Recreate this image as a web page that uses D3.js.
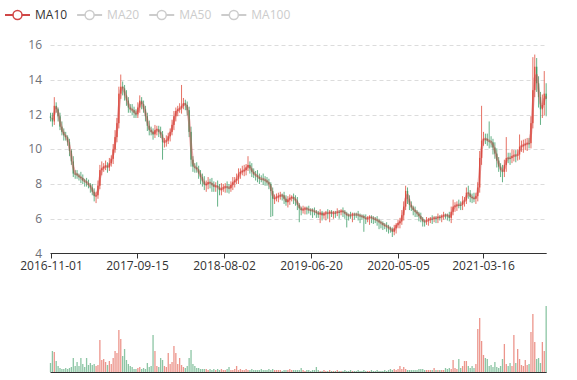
<!DOCTYPE html>
<html lang="en">
<head>
<meta charset="UTF-8">
<title>Candlestick with MA10</title>
<script src="https://d3js.org/d3.v7.min.js"></script>
<style>
  body { margin: 0; background: #fff; }
  svg text { font-family: "Open Sans", "Noto Sans", sans-serif; font-size: 12px; }
</style>
</head>
<body>
<svg id="chart" width="577" height="380"></svg>
<script>
// axis range and labels
const firstDay = "2016-11-01";
const lastDay = "2021-11-04";
const tickLabels = ["2016-11-01", "2017-09-15", "2018-08-02", "2019-06-20", "2020-05-05", "2021-03-16"];
const priceTicks = [4, 6, 8, 10, 12, 14, 16];
const legendNames = ["MA10", "MA20", "MA50", "MA100"];
const activeSeries = ["MA10"];

// weekly candles (open = previous close)
const firstOpen = 11.9;
const closes = [
  11.8,11.6,12.5,12.3,11.9,11.3,11.0,10.8,10.7,10.4,
  9.9,9.3,8.6,8.6,8.5,8.4,8.35,8.2,8.15,8.05,
  7.95,7.8,7.55,7.3,7.35,7.9,8.8,8.9,9.0,9.05,
  8.95,9.2,9.45,10.0,10.7,11.5,13.2,13.6,13.5,13.1,
  12.8,12.4,12.3,12.25,12.1,12.0,12.4,12.8,12.6,12.3,
  11.9,11.35,11.1,11.0,10.85,11.1,11.15,11.0,10.85,10.4,
  10.45,10.5,10.75,11.0,11.4,11.9,12.2,12.3,12.35,12.5,
  12.65,12.55,12.25,11.0,9.4,9.0,8.95,8.85,8.6,8.4,
  8.15,7.95,8.0,8.1,8.05,7.95,7.85,7.9,7.8,7.65,
  7.75,7.8,7.85,7.8,7.75,7.95,8.1,8.2,8.3,8.6,
  8.7,8.75,8.8,8.95,9.1,8.9,8.7,8.55,8.5,8.4,
  8.3,8.3,8.25,8.2,8.1,8.0,7.6,7.15,7.2,7.25,
  7.3,7.35,7.35,7.15,6.95,7.1,7.2,7.25,7.15,7.05,
  6.8,6.6,6.5,6.55,6.6,6.55,6.5,6.5,6.45,6.4,
  6.35,6.25,6.35,6.2,6.3,6.35,6.3,6.4,6.3,6.35,
  6.35,6.4,6.4,6.45,6.4,6.3,6.2,6.2,6.2,6.25,
  6.25,6.25,6.2,6.15,6.15,6.05,6.0,6.05,6.1,6.05,
  6.0,5.95,5.9,5.8,5.75,5.65,5.6,5.55,5.45,5.4,
  5.25,5.45,5.65,5.75,5.85,6.2,6.7,7.6,7.15,6.8,
  6.65,6.5,6.4,6.3,6.15,6.0,5.85,5.85,5.9,5.95,
  6.0,6.0,6.05,6.05,6.1,6.1,6.15,6.2,6.2,6.2,
  6.05,6.4,6.7,6.75,6.8,6.8,6.8,7.0,7.05,7.5,
  7.45,7.25,7.2,7.15,7.3,7.8,9.5,10.5,10.6,10.6,
  10.5,10.45,10.4,10.1,9.75,9.35,9.0,8.8,8.7,9.1,
  9.5,9.5,9.5,9.6,9.65,9.65,9.7,10.15,10.2,10.25,
  10.3,10.35,10.35,11.5,13.4,14.75,13.8,13.0,12.3,12.55,
  13.2,12.9
];
// shadow lengths above / below the body, in tenths
const upWick = [
  2,3,5,2,1,2,3,2,2,1, 2,1,3,2,2,1,3,2,1,2, 2,1,2,2,2,3,3,4,2,3,
  2,3,2,3,4,3,4,7,3,2, 3,2,2,3,2,2,3,3,2,2, 2,2,3,2,2,3,2,2,3,2,
  2,3,2,2,3,3,2,2,3,12, 3,2,2,2,3,2,2,3,2,2, 2,3,2,3,2,3,2,2,3,2,
  3,2,2,3,2,2,3,2,3,3, 2,3,3,2,5,2,3,2,2,3, 2,2,3,2,2,2,1,2,2,2,
  2,2,1,2,2,2,2,1,2,2, 2,1,1,2,1,1,2,1,1,2, 1,1,2,1,1,1,2,1,1,1,
  1,2,1,1,2,1,1,1,2,1, 1,1,2,1,1,1,2,1,1,1, 1,1,2,1,1,1,1,2,1,1,
  1,2,1,2,2,3,3,3,2,2, 2,1,2,1,1,2,1,1,2,1, 1,2,1,1,2,1,1,2,1,1,
  2,3,4,2,2,3,2,3,2,3, 4,2,2,3,2,3,4,20,4,3, 3,11,3,2,3,3,2,2,3,3,
  12,3,3,4,3,3,3,7,3,3, 3,3,3,4,19,7,5,4,3,6, 13,6
];
const downWick = [
  2,3,2,2,3,2,2,3,2,2, 3,2,2,3,2,2,3,2,3,2, 2,3,2,3,4,2,2,3,2,2,
  3,2,2,3,2,3,3,3,4,3, 3,3,2,3,3,2,2,3,3,2, 3,3,3,2,3,2,3,3,2,10,
  3,3,2,3,2,3,3,3,2,3, 2,3,3,3,4,3,3,2,3,4, 3,3,4,3,3,4,3,3,11,3,
  3,2,3,3,3,2,3,3,2,3, 3,2,3,3,2,3,3,2,3,3, 3,2,3,3,2,3,15,10,3,2,
  3,2,3,3,2,3,3,2,3,3, 3,8,3,2,3,3,2,3,4,2, 3,2,5,3,2,4,3,5,2,3,
  3,2,4,2,3,3,7,3,2,4, 3,2,3,4,2,8,3,2,4,3, 3,2,3,4,3,3,2,3,3,2,
  3,2,3,2,3,2,3,2,3,3, 2,3,3,2,3,2,3,3,2,3, 2,3,2,3,3,2,3,2,2,3,
  2,3,2,3,3,2,3,3,3,2, 3,3,3,2,3,3,3,4,3,3, 3,4,3,4,3,4,3,4,6,3,
  4,3,4,3,3,4,3,3,3,4, 3,4,3,3,3,4,5,6,9,5, 6,10
];
// weekly volume (millions)
const volumes = [
  0.9,2.1,2.0,1.1,0.6,0.4,0.3,0.3,0.4,0.3,
  0.4,0.5,1.4,0.6,1.0,0.6,1.4,0.8,0.5,1.4,
  0.7,0.9,0.7,0.8,0.6,0.7,3.2,1.2,1.3,1.0,
  0.7,1.1,0.8,1.4,2.1,1.9,4.2,3.3,1.6,2.3,
  1.2,0.8,0.6,0.5,0.3,0.3,0.4,0.5,0.3,0.4,
  0.3,0.9,0.5,0.6,3.7,2.1,0.6,0.5,1.4,1.2,
  0.6,0.5,1.9,0.8,1.0,2.6,1.9,0.8,1.4,0.7,
  0.5,0.4,0.6,1.4,2.2,0.8,0.6,0.4,0.4,0.3,
  0.3,0.3,0.3,0.2,0.3,0.2,0.3,0.2,0.3,0.2,
  0.3,0.2,0.2,0.3,0.5,0.2,0.2,0.3,0.6,0.2,
  0.3,0.2,0.2,0.3,0.2,0.2,0.3,0.2,0.2,0.2,
  0.2,0.3,0.2,0.2,0.2,0.3,0.2,0.3,0.2,0.2,
  0.2,0.2,0.1,0.2,0.2,0.2,0.3,0.2,0.2,0.2,
  0.2,0.2,0.4,0.2,0.1,0.2,0.2,0.1,0.2,0.2,
  0.5,0.2,0.1,0.1,0.2,0.1,0.1,0.2,0.1,0.1,
  0.1,0.2,0.1,0.1,0.1,0.2,0.1,0.1,0.2,0.1,
  0.1,0.1,0.2,0.1,0.1,0.2,0.1,0.1,0.1,0.2,
  0.1,0.1,0.2,0.1,0.1,0.1,0.2,0.1,0.2,0.3,
  0.2,0.3,0.2,0.3,0.6,0.3,0.5,0.3,0.2,0.2,
  0.2,0.2,0.2,0.2,0.3,0.3,0.3,0.2,0.2,0.2,
  0.2,0.2,0.4,0.2,0.2,0.2,0.2,0.2,0.4,0.3,
  0.4,0.3,1.2,0.4,0.3,1.3,0.4,0.6,1.1,1.1,
  0.6,0.4,0.6,0.4,0.8,4.3,5.4,3.1,1.7,1.4,
  1.3,0.6,0.7,0.5,1.0,0.5,0.4,0.6,1.3,2.8,
  0.8,0.6,0.9,0.6,3.7,0.9,2.3,1.3,0.7,0.6,
  1.2,0.7,0.8,4.0,5.8,3.0,1.3,1.4,0.9,3.0,
  2.1,6.6
];

const upColor = "#e04f3f", downColor = "#3f9e68", maColor = "#d04646";
const parse = d3.timeParse("%Y-%m-%d");
const start = parse(firstDay);

const candles = closes.map((c, i) => {
  const o = i === 0 ? firstOpen : closes[i - 1];
  return {
    date: d3.timeDay.offset(start, 7 * i),
    open: o, close: c,
    high: Math.max(o, c) + upWick[i] / 10,
    low: Math.min(o, c) - downWick[i] / 10,
    vol: volumes[i]
  };
});
const isUp = d => d.close > d.open;
// MA10 = ten trading days = two weekly closes
const ma10 = candles.slice(1).map((d, i) => ({ date: d.date, v: (closes[i] + closes[i + 1]) / 2 }));

const svg = d3.select("#chart");
const x = d3.scaleTime().domain([start, parse(lastDay)]).range([50.5, 546.7]);
const y = d3.scaleLinear().domain([4, 16]).range([253.5, 45]);
const yVol = d3.scaleLinear().domain([0, 7]).range([372, 302]);

// grid
svg.append("g").selectAll("line")
  .data(priceTicks.slice(1))
  .join("line")
  .attr("x1", x.range()[0]).attr("x2", x.range()[1])
  .attr("y1", d => Math.round(y(d)) + 0.5).attr("y2", d => Math.round(y(d)) + 0.5)
  .attr("stroke", "#dcdcdc").attr("stroke-dasharray", "4,3");

svg.append("g").selectAll("text")
  .data(priceTicks)
  .join("text")
  .attr("x", 42).attr("y", d => y(d)).attr("dy", "0.35em")
  .attr("text-anchor", "end").attr("fill", "#6e7079")
  .text(d => d);

// candles
const bw = 1.3;
const cg = svg.append("g");
cg.selectAll("line")
  .data(candles)
  .join("line")
  .attr("x1", d => x(d.date)).attr("x2", d => x(d.date))
  .attr("y1", d => y(d.high)).attr("y2", d => y(d.low))
  .attr("stroke", d => isUp(d) ? upColor : downColor)
  .attr("stroke-width", 1).attr("stroke-opacity", 0.8);
cg.selectAll("rect")
  .data(candles)
  .join("rect")
  .attr("x", d => x(d.date) - bw / 2)
  .attr("y", d => y(Math.max(d.open, d.close)))
  .attr("width", bw)
  .attr("height", d => Math.max(1, y(Math.min(d.open, d.close)) - y(Math.max(d.open, d.close))))
  .attr("fill", d => isUp(d) ? upColor : downColor);

// MA10 line
svg.append("path")
  .datum(ma10)
  .attr("fill", "none")
  .attr("stroke", maColor).attr("stroke-opacity", 0.45).attr("stroke-width", 2.5)
  .attr("stroke-linejoin", "round")
  .attr("d", d3.line().x(d => x(d.date)).y(d => y(d.v)));

// x axis
const xAxis = svg.append("g");
xAxis.append("line")
  .attr("x1", x.range()[0]).attr("x2", x.range()[1])
  .attr("y1", 253.5).attr("y2", 253.5).attr("stroke", "#333");
const tk = xAxis.selectAll("g.tick")
  .data(tickLabels)
  .join("g").attr("class", "tick")
  .attr("transform", d => `translate(${Math.round(x(parse(d))) + 0.5},0)`);
tk.append("line").attr("y1", 253.5).attr("y2", 258.5).attr("stroke", "#333");
tk.append("text").attr("y", 270).attr("text-anchor", "middle").attr("fill", "#333").text(d => d);

// volume
svg.append("g").selectAll("rect")
  .data(candles)
  .join("rect")
  .attr("x", d => x(d.date) - bw / 2)
  .attr("y", d => yVol(d.vol))
  .attr("width", bw)
  .attr("height", d => yVol(0) - yVol(d.vol))
  .attr("fill", d => isUp(d) ? upColor : downColor)
  .attr("fill-opacity", 0.6);
svg.append("line")
  .attr("x1", x.range()[0]).attr("x2", x.range()[1])
  .attr("y1", 372.5).attr("y2", 372.5).attr("stroke", "#333");

// legend
let lx = 5;
legendNames.forEach(name => {
  const on = activeSeries.includes(name);
  const col = on ? maColor : "#ccc";
  const g = svg.append("g");
  g.append("line").attr("x1", lx).attr("x2", lx + 25).attr("y1", 15).attr("y2", 15)
    .attr("stroke", col).attr("stroke-width", 2);
  g.append("circle").attr("cx", lx + 12.5).attr("cy", 15).attr("r", 4.5)
    .attr("fill", "#fff").attr("stroke", col).attr("stroke-width", 1.5);
  const t = g.append("text").attr("x", lx + 30).attr("y", 15).attr("dy", "0.35em")
    .attr("fill", on ? "#333" : "#ccc").text(name);
  lx += 30 + t.node().getComputedTextLength() + 10;
});
</script>
</body>
</html>
